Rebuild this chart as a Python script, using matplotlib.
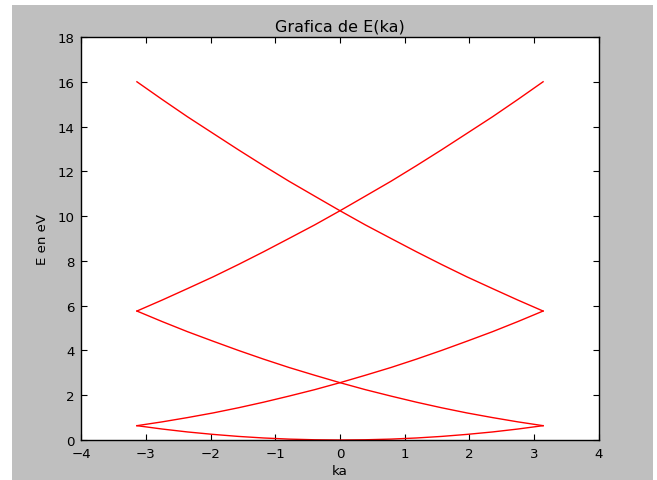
"""Band diagram E(ka) in the reduced zone, drawn in the old matplotlib look."""

import matplotlib

matplotlib.use("Agg")
import matplotlib.pyplot as plt
from matplotlib.patches import Rectangle

# ka sample points (-pi .. pi)
ka = [-3.14, -2.75, -2.36, -1.96, -1.57, -1.18, -0.79, -0.39, 0.0,
      0.39, 0.79, 1.18, 1.57, 1.96, 2.36, 2.75, 3.14]

# energy of each folded band, in eV
band_0 = [0.64, 0.49, 0.36, 0.25, 0.16, 0.09, 0.04, 0.01, 0.00,
          0.01, 0.04, 0.09, 0.16, 0.25, 0.36, 0.49, 0.64]
band_p1 = [0.64, 0.81, 1.00, 1.21, 1.44, 1.69, 1.96, 2.25, 2.56,
           2.89, 3.24, 3.61, 4.00, 4.41, 4.84, 5.29, 5.76]
band_m1 = band_p1[::-1]
band_p2 = [5.76, 6.25, 6.76, 7.29, 7.84, 8.41, 9.00, 9.61, 10.24,
           10.89, 11.56, 12.25, 12.96, 13.69, 14.44, 15.21, 16.00]
band_m2 = band_p2[::-1]

x_ticks = [-4, -3, -2, -1, 0, 1, 2, 3, 4]
y_ticks = [0, 2, 4, 6, 8, 10, 12, 14, 16, 18]

W, H = 657, 481
fig = plt.figure(figsize=(W / 100, H / 100), dpi=100, facecolor="white")

# grey window background (screenshot frame)
fig.patches.append(Rectangle((12 / W, 0), (653 - 12) / W, (H - 6) / H,
                             transform=fig.transFigure, facecolor="#bfbfbf",
                             edgecolor="none", zorder=-10))

left, right, top, bottom = 81.3, 598.7, 38.0, 441.0
ax = fig.add_axes([left / W, (H - bottom) / H, (right - left) / W, (bottom - top) / H])
ax.set_facecolor("white")
ax.set_zorder(1)

for band in (band_0, band_p1, band_m1, band_p2, band_m2):
    ax.plot(ka, band, color="red", linewidth=1.0)

ax.set_xlim(-4, 4)
ax.set_ylim(0, 18)
ax.set_xticks(x_ticks)
ax.set_yticks(y_ticks)
ax.tick_params(direction="in", length=4, width=0.8, top=True, right=True,
               labelsize=9.6, pad=5, colors="black")
for sp in ax.spines.values():
    sp.set_linewidth(1.0)

ax.set_title("Grafica de E(ka)", fontsize=11.5, pad=5)
ax.set_xlabel("ka", fontsize=9.6, labelpad=3)
ax.set_ylabel("E en eV", fontsize=9.6, labelpad=6)

fig.savefig("out.png", dpi=100, facecolor=fig.get_facecolor())
plt.close(fig)
